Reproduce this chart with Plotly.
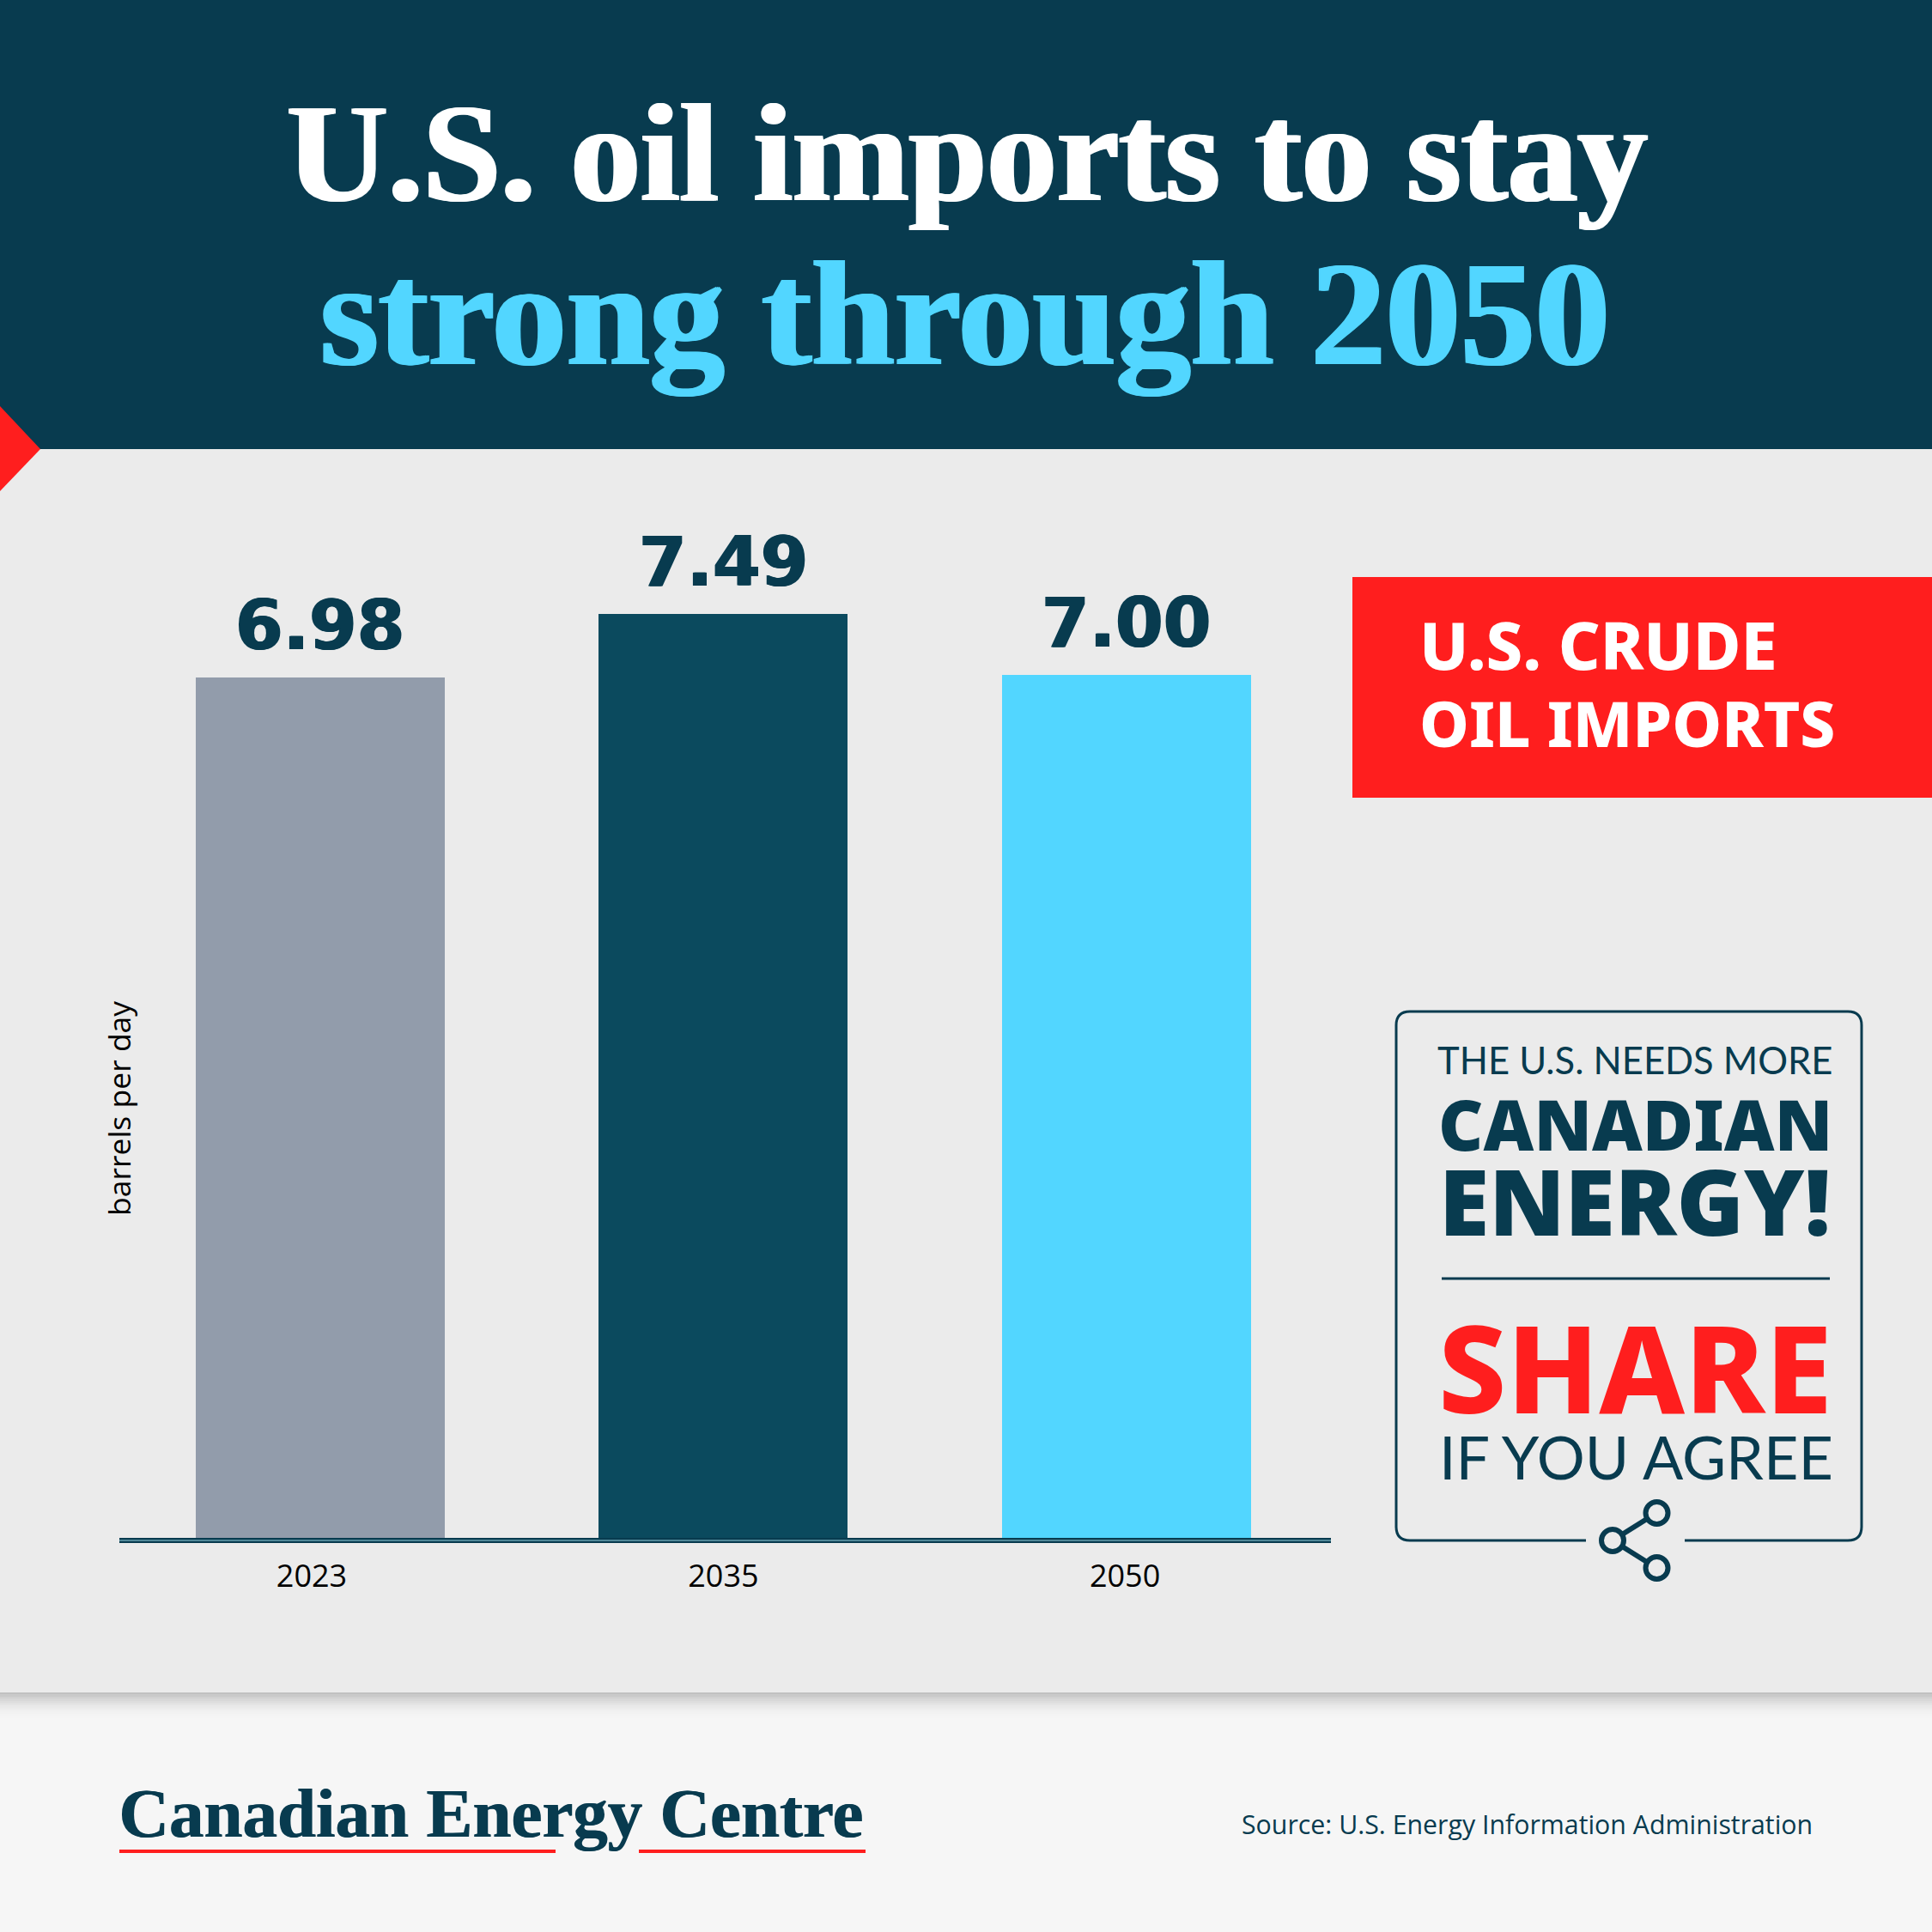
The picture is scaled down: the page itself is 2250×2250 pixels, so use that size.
import plotly.graph_objects as go

YEARS = ["2023", "2035", "2050"]
VALUES = [6.98, 7.49, 7.00]
VALUE_LABELS = ["6.98", "7.49", "7.00"]
BAR_COLORS = ["#929CAB", "#0B4A5E", "#52D6FF"]
TICK_OFFSETS = [-0.021, 0.0, -0.004]
AXIS_TITLE = "barrels per day"

DARK = "#083B4F"
RED = "#FF1E1E"
CYAN = "#52D6FF"
W = H = 2250
SANS = "Open Sans"
HEAVY = "Noto Sans"
SERIF = "Liberation Serif"


def px(v):
    return v / W


def py(v):
    return 1 - v / H


def rect(x0, y0, x1, y1, fill, opacity=1, layer="below", line=None):
    return dict(type="rect", xref="paper", yref="paper", x0=px(x0), x1=px(x1), y0=py(y0), y1=py(y1),
                fillcolor=fill, opacity=opacity, layer=layer, line=line or dict(width=0))


def seg(x0, y0, x1, y1, color=DARK, width=3):
    return dict(type="line", xref="paper", yref="paper", x0=px(x0), x1=px(x1), y0=py(y0), y1=py(y1),
                line=dict(color=color, width=width), layer="above")


def circle(cx, cy, r, width=6):
    return dict(type="circle", xref="paper", yref="paper", x0=px(cx - r), x1=px(cx + r), y0=py(cy - r), y1=py(cy + r),
                line=dict(color=DARK, width=width), fillcolor="#EBEBEB", layer="above")


def label(text, x, y, size, color=DARK, family=SANS, weight=400, anchor="center", angle=0, shadow=None):
    f = dict(family=family, size=size, color=color, weight=weight)
    if shadow:
        f["shadow"] = shadow
    return dict(text=text, xref="paper", yref="paper", x=px(x), y=py(y), xanchor=anchor, yanchor="middle",
                showarrow=False, textangle=angle, font=f)


shapes = [
    rect(0, 0, W, 523, DARK),
    rect(0, 523, W, 1971, "#EBEBEB"),
    dict(type="path", xref="paper", yref="paper", layer="below", fillcolor=RED, line=dict(width=0),
         path=f"M 0 {py(473)} L {px(47)} {py(523)} L 0 {py(572)} Z"),
    rect(1575, 672, W, 929, RED),
]
# soft shadow under the grey panel
for i in range(12):
    shapes.append(rect(0, 1971 + i * 2.5, W, 1971 + (i + 1) * 2.5, "#777777", opacity=0.42 * (1 - i / 12) ** 2))

# call-out frame, open at the bottom for the share icon
L, T, R, B, C = 1626, 1178, 2168, 1794, 16
shapes.append(dict(type="path", xref="paper", yref="paper", layer="above", line=dict(color=DARK, width=3),
                   path=(f"M {px(1847)} {py(B)} L {px(L + C)} {py(B)} Q {px(L)} {py(B)} {px(L)} {py(B - C)} "
                         f"L {px(L)} {py(T + C)} Q {px(L)} {py(T)} {px(L + C)} {py(T)} "
                         f"L {px(R - C)} {py(T)} Q {px(R)} {py(T)} {px(R)} {py(T + C)} "
                         f"L {px(R)} {py(B - C)} Q {px(R)} {py(B)} {px(R - C)} {py(B)} L {px(1962)} {py(B)}")))
shapes += [
    seg(1679, 1489, 2131, 1489),
    seg(1878, 1794, 1929, 1762, width=6),
    seg(1878, 1794, 1929, 1826, width=6),
    circle(1878, 1794, 13),
    circle(1929.5, 1762, 13),
    circle(1929.5, 1826, 13),
    seg(139, 1794, 1550, 1794, color="#4F8797", width=2),
    rect(139, 2154, 647, 2158, RED, layer="above"),
    rect(744, 2154, 1008, 2158, RED, layer="above"),
]

WHITE_BOLD = "2px 0 0 #FFFFFF, -2px 0 0 #FFFFFF"
CYAN_BOLD = f"2px 0 0 {CYAN}, -2px 0 0 {CYAN}"
DARK_BOLD = f"1px 0 0 {DARK}"
positions = list(range(len(YEARS)))
annotations = [
    label("U.S. oil imports to stay", 1126, 178, 163, "#FFFFFF", SERIF, 700, shadow=WHITE_BOLD),
    label("strong through 2050", 1124, 366, 174, CYAN, SERIF, 700, shadow=CYAN_BOLD),
    label(AXIS_TITLE, 138, 1291, 35.5, "#000000", angle=-90),
    label("U.S. CRUDE", 1651, 751, 76, "#FFFFFF", HEAVY, 800, anchor="left"),
    label("OIL IMPORTS", 1651, 841, 73, "#FFFFFF", HEAVY, 800, anchor="left"),
    label("THE U.S. NEEDS MORE", 1904, 1234, 43.5, family="Lato"),
    label("CANADIAN", 1904, 1308, 81, family=HEAVY, weight=900),
    label("ENERGY!", 1904, 1398, 106, family=HEAVY, weight=900),
    label("SHARE", 1904, 1591, 141, RED, HEAVY, 800),
    label("IF YOU AGREE", 1905, 1696, 70, family="Lato"),
    label("Canadian Energy Centre", 571, 2112, 81, DARK, SERIF, 700, shadow=DARK_BOLD),
    label("Source: U.S. Energy Information Administration", 1778, 2124, 30.3),
]
annotations += [
    dict(x=p, y=v, xref="x", yref="y", text=t, showarrow=False, yanchor="bottom", yshift=12,
         font=dict(family="DejaVu Sans", size=80, color=DARK, weight=700, shadow=f"1px 0 0 {DARK}, -1px 0 0 {DARK}"))
    for p, v, t in zip(positions, VALUES, VALUE_LABELS)
]

fig = go.Figure(go.Bar(
    x=positions, y=VALUES, width=0.618, marker=dict(color=BAR_COLORS, line=dict(width=0)),
))
fig.update_layout(
    width=W, height=H, autosize=False, margin=dict(l=0, r=0, t=0, b=0), showlegend=False,
    paper_bgcolor="#F6F6F6", plot_bgcolor="rgba(0,0,0,0)", shapes=shapes, annotations=annotations,
    xaxis=dict(domain=[px(139), px(1550)], range=[-0.498, 2.507], showgrid=False, zeroline=False,
               tickmode="array", tickvals=[p + o for p, o in zip(positions, TICK_OFFSETS)], ticktext=YEARS,
               ticks="", ticklabelstandoff=8, tickfont=dict(family=SANS, size=36, color="#000000"),
               showline=True, linecolor=DARK, linewidth=6),
    yaxis=dict(domain=[py(1791), py(642)], range=[0, 8], visible=False),
    bargap=0,
)
fig.write_html("out.html", config=dict(displayModeBar=False),
               post_script="document.body.style.margin='0';document.documentElement.style.overflow='hidden';")
